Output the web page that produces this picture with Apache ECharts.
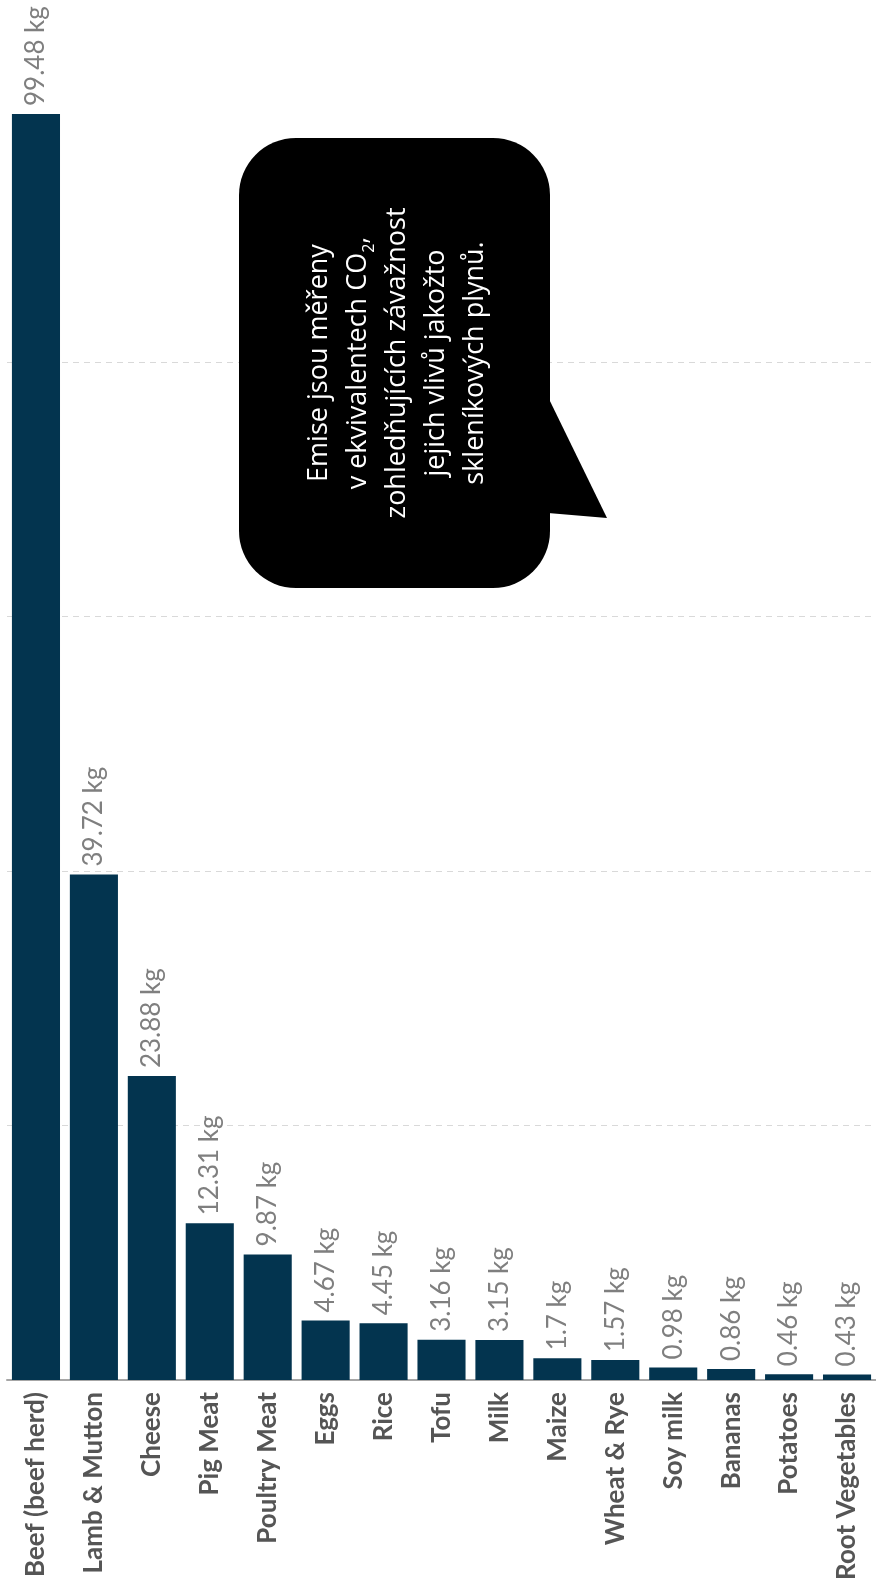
<!DOCTYPE html>
<html>
<head>
<meta charset="utf-8">
<script src="https://cdn.jsdelivr.net/npm/echarts@6/dist/echarts.min.js"></script>
<style>
  html, body { margin: 0; padding: 0; background: #ffffff; }
  #chart { width: 876px; height: 1591px; }
</style>
</head>
<body>
<div id="chart"></div>
<script>
const categories = ['Beef (beef herd)', 'Lamb & Mutton', 'Cheese', 'Pig Meat', 'Poultry Meat', 'Eggs', 'Rice', 'Tofu', 'Milk', 'Maize', 'Wheat & Rye', 'Soy milk', 'Bananas', 'Potatoes', 'Root Vegetables'];
const emissions = [99.48, 39.72, 23.88, 12.31, 9.87, 4.67, 4.45, 3.16, 3.15, 1.7, 1.57, 0.98, 0.86, 0.46, 0.43];
const unit = ' kg';
const calloutLines = ['{n|Emise jsou měřeny}', '{n|v ekvivalentech CO}{sub|2}{n|,}', '{n|zohledňujících závažnost}', '{n|jejich vlivů jakožto}', '{n|skleníkových plynů.}'];

const chart = echarts.init(document.getElementById('chart'));
chart.setOption({
  backgroundColor: '#ffffff',
  animation: false,
  grid: { left: 7, width: 875, top: 114, bottom: 211, containLabel: false },
  xAxis: {
    type: 'category',
    data: categories,
    axisLine: { show: true, lineStyle: { color: '#a6a6a6', width: 2 } },
    axisTick: { show: false },
    axisLabel: {
      rotate: 90,
      interval: 0,
      margin: 12,
      fontFamily: 'Lato',
      fontWeight: 'bold',
      fontSize: 26,
      color: '#555555'
    }
  },
  yAxis: {
    type: 'value',
    min: 0,
    max: Math.max.apply(null, emissions),
    interval: 20,
    axisLine: { show: false },
    axisTick: { show: false },
    axisLabel: { show: false },
    splitLine: {
      show: true,
      showMinLine: false,
      showMaxLine: false,
      lineStyle: { color: '#d9d9d9', type: [6, 5], width: 1 }
    }
  },
  series: [{
    type: 'bar',
    data: emissions,
    barCategoryGap: '17%',
    itemStyle: { color: '#03344f' },
    label: {
      show: true,
      position: 'top',
      rotate: 90,
      align: 'left',
      verticalAlign: 'middle',
      distance: 8,
      fontFamily: 'Lato',
      fontWeight: 'normal',
      fontSize: 26,
      color: '#7f7f7f',
      formatter: p => p.value + unit
    }
  }],
  graphic: [
    {
      type: 'rect',
      shape: { x: 239, y: 138, width: 311, height: 450, r: 57 },
      style: { fill: '#000000' },
      z: 100
    },
    {
      type: 'polygon',
      shape: { points: [[548, 397], [607, 518], [548, 513]] },
      style: { fill: '#000000' },
      z: 100
    },
    {
      type: 'text',
      x: 397,
      y: 363,
      rotation: Math.PI / 2,
      z: 101,
      style: {
        text: calloutLines.join('\n'),
        fill: '#ffffff',
        fontFamily: 'Open Sans',
        fontSize: 27,
        lineHeight: 39,
        align: 'center',
        verticalAlign: 'middle',
        rich: {
          n: { fontSize: 27, fontFamily: 'Open Sans', fill: '#ffffff', lineHeight: 39, verticalAlign: 'middle' },
          sub: { fontSize: 16, fontFamily: 'Open Sans', fill: '#ffffff', lineHeight: 16, verticalAlign: 'bottom' }
        }
      }
    }
  ]
});
</script>
</body>
</html>
